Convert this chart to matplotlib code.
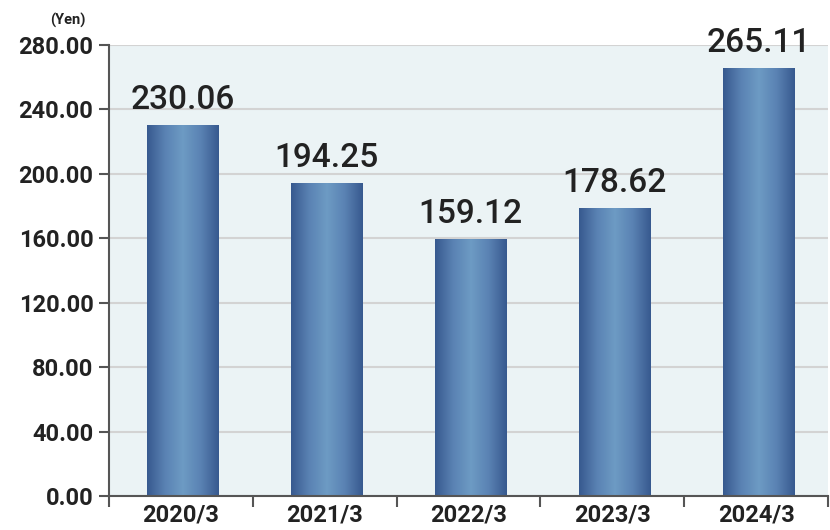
import numpy as np
import matplotlib.pyplot as plt
from matplotlib.colors import LinearSegmentedColormap

years = ['2020/3', '2021/3', '2022/3', '2023/3', '2024/3']
values = [230.06, 194.25, 159.12, 178.62, 265.11]
yticks = [0, 40, 80, 120, 160, 200, 240, 280]

plt.rcParams['font.family'] = ['Roboto', 'DejaVu Sans']

fig = plt.figure(figsize=(8.3, 5.3), dpi=100)
ax = fig.add_axes([0.131, 0.064, 0.867, 0.851])
ax.set_facecolor('#ebf3f5')

# gradient for the bars: dark edges, light middle
cmap = LinearSegmentedColormap.from_list('bar', ['#37598f', '#5a82b3', '#6d9bc4', '#5a82b3', '#37598f'])
grad = np.linspace(0, 1, 256).reshape(1, -1)

width = 0.5
shift = 0.015
for i, v in enumerate(values):
    ax.imshow(grad, cmap=cmap, aspect='auto',
              extent=[i - width / 2 + shift, i + width / 2 + shift, 0, v], zorder=2)
    ax.text(i + shift, v + 6, f'{v:.2f}', ha='center', va='bottom', fontsize=24,
            fontweight='medium', color='#222222', zorder=3)

ax.set_xlim(-0.5, len(years) - 0.5)
ax.set_ylim(0, 280)
ax.set_yticks(yticks)
ax.set_yticklabels([f'{t:.2f}' for t in yticks], fontsize=17, fontweight='bold', color='#222222')
ax.set_xticks(range(len(years)))
ax.set_xticklabels(years, fontsize=17, fontweight='bold', color='#222222')
ax.set_xticks(np.arange(-0.5, len(years)), minor=True)
ax.tick_params(axis='x', which='major', length=0, pad=5)
ax.tick_params(axis='x', which='minor', length=8, width=1.5, color='#555555')
ax.tick_params(axis='y', length=7, width=1.5, color='#555555', pad=4)

ax.grid(axis='y', color='#d3d3d3', lw=1.5, zorder=1)
ax.set_axisbelow(True)
for s in ['top', 'right']:
    ax.spines[s].set_visible(False)
for s in ['left', 'bottom']:
    ax.spines[s].set_color('#555555')
    ax.spines[s].set_linewidth(1.5)

fig.text(0.06, 0.975, '(Yen)', fontsize=10.5, fontweight='bold', color='#222222', va='top')

fig.savefig('out.png', dpi=100)
